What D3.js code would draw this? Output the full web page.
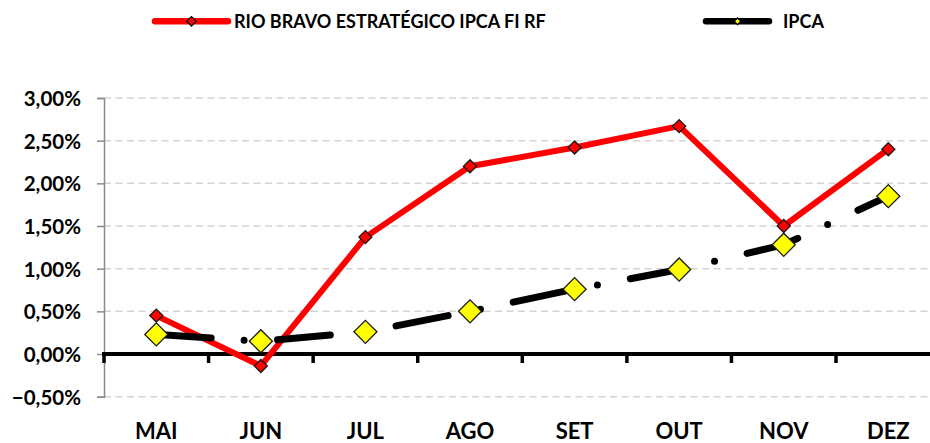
<!DOCTYPE html>
<html>
<head>
<meta charset="utf-8">
<script src="https://cdn.jsdelivr.net/npm/d3@7"></script>
<style>
  body { margin: 0; background: #fff; }
  text { font-family: Lato, "Open Sans", sans-serif; font-weight: bold; fill: #000; }
</style>
</head>
<body>
<div id="chart"></div>
<script>
const width = 930;
const height = 443;

// ---------------- DATA ----------------
const months = ["MAI", "JUN", "JUL", "AGO", "SET", "OUT", "NOV", "DEZ"];
const rioBravo = [0.45, -0.14, 1.37, 2.20, 2.42, 2.67, 1.50, 2.40];
const ipca = [0.23, 0.15, 0.26, 0.50, 0.76, 0.99, 1.28, 1.85];
const yTicks = [-0.5, 0, 0.5, 1, 1.5, 2, 2.5, 3];
const seriesNames = ["RIO BRAVO ESTRATÉGICO IPCA FI RF", "IPCA"];

const svg = d3.select("#chart").append("svg")
    .attr("width", width)
    .attr("height", height);

// ---------------- SCALES ----------------
const x = d3.scaleBand().domain(months).range([104, 940.6]).padding(0);
const y = d3.scaleLinear().domain([-0.5, 3]).range([396.7, 98]);
const cx = d => x(d) + x.bandwidth() / 2;

const fmt = v => d3.format(".2f")(v).replace(".", ",") + "%";

// gridlines
svg.append("g")
    .selectAll("line")
    .data(yTicks)
    .join("line")
    .attr("x1", 104).attr("x2", width)
    .attr("y1", d => y(d)).attr("y2", d => y(d))
    .attr("stroke", "#d4d4d4")
    .attr("stroke-width", 1.5)
    .attr("stroke-dasharray", "7 4.5");

// y axis
const yAxis = svg.append("g")
    .attr("transform", "translate(104,0)")
    .call(d3.axisLeft(y).tickValues(yTicks).tickSize(7).tickPadding(16).tickFormat(fmt));
yAxis.select(".domain").attr("stroke", "#8a8a8a").attr("stroke-width", 1.5);
yAxis.selectAll(".tick line").attr("stroke", "#8a8a8a").attr("stroke-width", 1.5);
yAxis.selectAll("text")
    .style("font-size", "20.5px")
    .style("font-family", "Lato, sans-serif")
    .style("font-weight", "bold")
    .attr("fill", "#000")
    .attr("dy", "0.36em");

// zero line with category ticks
svg.append("line")
    .attr("x1", 102).attr("x2", width)
    .attr("y1", y(0)).attr("y2", y(0))
    .attr("stroke", "#000").attr("stroke-width", 4);
svg.append("g")
    .selectAll("line")
    .data(months.concat(["_end"]))
    .join("line")
    .attr("x1", (d, i) => 104 + i * x.bandwidth())
    .attr("x2", (d, i) => 104 + i * x.bandwidth())
    .attr("y1", y(0)).attr("y2", y(0) + 9)
    .attr("stroke", "#000").attr("stroke-width", 3.5);

// x labels
const xAxis = svg.append("g")
    .attr("transform", "translate(0," + y(-0.5) + ")")
    .call(d3.axisBottom(x).tickSize(0).tickPadding(26.5));
xAxis.select(".domain").remove();
xAxis.selectAll("text")
    .style("font-size", "22px")
    .style("font-family", "Lato, sans-serif")
    .style("font-weight", "bold")
    .attr("fill", "#000");

// ---------------- LINES ----------------
const line = d3.line()
    .x((d, i) => cx(months[i]))
    .y(d => y(d));

svg.append("path")
    .attr("d", line(rioBravo))
    .attr("fill", "none")
    .attr("stroke", "#ff0000")
    .attr("stroke-width", 6)
    .attr("stroke-linejoin", "round");

svg.append("path")
    .attr("d", line(ipca))
    .attr("fill", "none")
    .attr("stroke", "#000")
    .attr("stroke-width", 7)
    .attr("stroke-linecap", "round")
    .attr("stroke-dasharray", "53 33 0 33.5")
    .attr("stroke-dashoffset", -2);

// markers
const diamond = area => d3.symbol(d3.symbolSquare, area)();

svg.append("g")
    .selectAll("path")
    .data(rioBravo)
    .join("path")
    .attr("d", diamond(85))
    .attr("transform", (d, i) => "translate(" + cx(months[i]) + "," + y(d) + ") rotate(45)")
    .attr("fill", "#ff0000")
    .attr("stroke", "#1a1a1a")
    .attr("stroke-width", 1.3);

svg.append("g")
    .selectAll("path")
    .data(ipca)
    .join("path")
    .attr("d", diamond(265))
    .attr("transform", (d, i) => "translate(" + cx(months[i]) + "," + y(d) + ") rotate(45)")
    .attr("fill", "#ffff00")
    .attr("stroke", "#1a1a1a")
    .attr("stroke-width", 1.3);

// ---------------- LEGEND ----------------
const legend = [
    { name: seriesNames[0], x1: 155, x2: 228, text: 234, color: "#ff0000", fill: "#ff0000", size: 44 },
    { name: seriesNames[1], x1: 706, x2: 769, text: 783, color: "#000", fill: "#ffff00", size: 22 }
];
const lg = svg.append("g").selectAll("g").data(legend).join("g");
lg.append("line")
    .attr("x1", d => d.x1).attr("x2", d => d.x2)
    .attr("y1", 21.3).attr("y2", 21.3)
    .attr("stroke", d => d.color)
    .attr("stroke-width", 6.5)
    .attr("stroke-linecap", "round");
lg.append("path")
    .attr("d", d => diamond(d.size))
    .attr("transform", d => "translate(" + (d.x1 + d.x2) / 2 + ",21.3) rotate(45)")
    .attr("fill", d => d.fill)
    .attr("stroke", "#000")
    .attr("stroke-width", 1.3);
lg.append("text")
    .attr("x", d => d.text)
    .attr("y", 28.3)
    .style("font-size", "18px")
    .text(d => d.name);
</script>
</body>
</html>
